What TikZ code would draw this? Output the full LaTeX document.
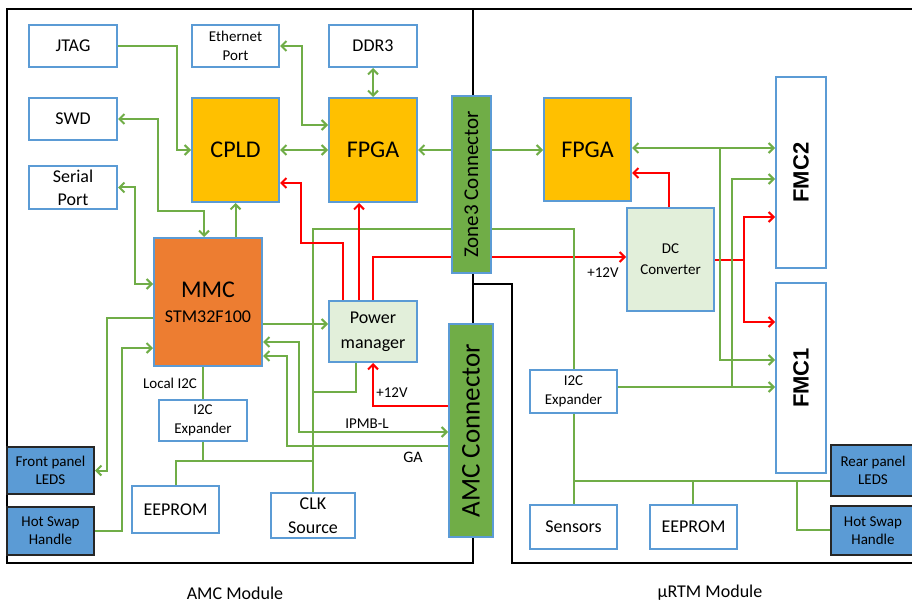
\documentclass[tikz,border=0pt]{standalone}
\usepackage{fontspec}
\setmainfont{Carlito}
\newfontfamily\arialf{Liberation Sans}
\usepackage{graphicx}
\usetikzlibrary{arrows.meta}
\definecolor{BoxBlue}{HTML}{5B9BD5}
\definecolor{LineGreen}{HTML}{70AD47}
\definecolor{LineRed}{HTML}{FF0000}
\definecolor{McuOrange}{HTML}{ED7D31}
\definecolor{ChipYellow}{HTML}{FFC000}
\definecolor{PwrGreen}{HTML}{E2EFDA}
\definecolor{PanelEdge}{HTML}{262626}
\tikzset{
  blk/.style    = {draw=BoxBlue, line width=2pt, fill=white, inner sep=0pt,
                   align=center, font=\fontsize{18}{23}\selectfont},
  blks/.style   = {blk, font=\fontsize{15}{19}\selectfont},
  chip/.style   = {blk, fill=ChipYellow, font=\fontsize{24}{28}\selectfont},
  mcu/.style    = {blk, fill=McuOrange},
  pwr/.style    = {blk, fill=PwrGreen},
  conn/.style   = {blk, fill=LineGreen},
  panel/.style  = {draw=PanelEdge, line width=2pt, fill=BoxBlue, inner sep=0pt,
                   align=center, font=\fontsize{15}{18}\selectfont},
  fmc/.style    = {blk, font=\arialf\bfseries\fontsize{22}{26}\selectfont},
  wire/.style   = {LineGreen, line width=2pt},
  arr/.style    = {wire, -{Straight Barb[length=5pt,width=10pt]}},
  darr/.style   = {wire, {Straight Barb[length=5pt,width=10pt]}-{Straight Barb[length=5pt,width=10pt]}},
  redwire/.style= {LineRed, line width=2pt},
  redarr/.style = {redwire, -{Straight Barb[length=5pt,width=10pt]}},
  lbl/.style    = {inner sep=0pt, font=\fontsize{15}{18}\selectfont},
  frame/.style  = {black, line width=2pt},
}

\begin{document}
\begin{tikzpicture}[x=1pt, y=-1pt]
  \useasboundingbox (0,0) rectangle (912,604);
  % module frames
  \draw[frame] (7,9) rectangle (473,563);
  \draw[frame] (473,9) -- (915,9);
  \draw[frame] (473,284) -- (512,284) -- (512,563) -- (915,563);

  % AMC side
  \node[blk, minimum width=88pt, minimum height=42pt] (jtag) at (73,46) {JTAG};
  \node[blk, minimum width=88pt, minimum height=42pt] (swd) at (73,119) {SWD};
  \node[blk, minimum width=88pt, minimum height=43pt] (serial) at (73,187.5) {Serial\\Port};
  \node[blks, minimum width=87pt, minimum height=42pt] (eth) at (235.5,46) {Ethernet\\Port};
  \node[blk, minimum width=88pt, minimum height=42pt] (ddr) at (373,46) {DDR3};
  \node[chip, minimum width=87pt, minimum height=104pt] (cpld) at (235.5,150) {CPLD};
  \node[chip, minimum width=88pt, minimum height=104pt] (fpgaA) at (373,150) {FPGA};
  \node[mcu, minimum width=108pt, minimum height=128pt] (mmc) at (208,302)
    {{\fontsize{24}{28}\selectfont MMC}\\[2pt]STM32F100};
  \node[pwr, minimum width=88pt, minimum height=61pt, font=\fontsize{18}{25}\selectfont] (pm) at (373,331.5) {Power\\manager};
  \node[blks, minimum width=88pt, minimum height=41pt] (i2cA) at (203,420.5) {I2C\\Expander};
  \node[blk, minimum width=87pt, minimum height=47pt] (eepA) at (175.5,509.5) {EEPROM};
  \node[blk, minimum width=84pt, minimum height=45pt, font=\fontsize{18}{24}\selectfont] (clk) at (313,515.5) {CLK\\Source};
  \node[panel, minimum width=87pt, minimum height=47pt] (fled) at (50.5,470.5) {Front panel\\LEDS};
  \node[panel, minimum width=87pt, minimum height=48pt] (hshA) at (50.5,531) {Hot Swap\\Handle};
  \node[conn, minimum width=39pt, minimum height=177pt, font=\fontsize{21}{24}\selectfont] (zone) at (471.5,184.5) {\rotatebox{90}{Zone3 Connector}};
  \node[conn, minimum width=44pt, minimum height=213pt, font=\fontsize{27}{30}\selectfont] (amc) at (471,430.5) {\rotatebox{90}{AMC Connector}};

  % uRTM side
  \node[chip, minimum width=87pt, minimum height=103pt] (fpgaB) at (587.5,149.5) {FPGA};
  \node[pwr, minimum width=87pt, minimum height=103pt, font=\fontsize{15}{21}\selectfont] (dc) at (670.5,259.5) {DC\\Converter};
  \node[fmc, minimum width=50pt, minimum height=191pt] (fmc2) at (801,172.5) {\rotatebox{90}{FMC2}};
  \node[fmc, minimum width=50pt, minimum height=190pt] (fmc1) at (801,378) {\rotatebox{90}{FMC1}};
  \node[blks, minimum width=87pt, minimum height=43pt] (i2cB) at (573.5,391.5) {I2C\\Expander};
  \node[blk, minimum width=87pt, minimum height=44pt] (sens) at (573.5,527) {Sensors};
  \node[blk, minimum width=87pt, minimum height=44pt] (eepB) at (693.5,527) {EEPROM};
  \node[panel, minimum width=84pt, minimum height=51pt] (rled) at (873,470.5) {Rear panel\\LEDS};
  \node[panel, minimum width=84pt, minimum height=49pt] (hshB) at (873,530.5) {Hot Swap\\Handle};

  % green links, AMC side
  \draw[arr] (jtag.east) -- ++(59,0) |- (cpld.west);
  \draw[darr] (swd.east) -| (158,211) -| (204,0 |- mmc.north);
  \draw[arr] (cpld.south |- mmc.north) -- (cpld.south);
  \draw[darr] (serial.east) -- ++(17,0) |- (mmc.west |- 0,284);
  \draw[arr] (mmc.west |- 0,318) -- (107,318) |- (fled.east);
  \draw[arr] (hshA.east) -| (122,348) -- (mmc.west |- 0,348);
  \draw[darr] (eth.east) -- (302,0 |- eth.east) |- (fpgaA.west |- 0,125);
  \draw[darr] (cpld.east) -- (fpgaA.west);
  \draw[darr] (ddr.south) -- (fpgaA.north);
  \draw[arr] (zone.west |- fpgaA.east) -- (fpgaA.east);
  \draw[arr] (zone.east |- 0,150) -- (fpgaB.west |- 0,150);
  \draw[arr] (mmc.east |- 0,324) -- (pm.west |- 0,324);
  \draw[wire] (356,0 |- pm.south) |- (313,392);
  \draw[wire] (zone.west |- 0,229) -| (clk.north);
  \draw[wire] (mmc.south -| i2cA.north) -- (i2cA.north);
  \draw[wire] (i2cA.south) -- (203,461);
  \draw[wire] (eepA.north) |- (313,461);
  \draw[darr] (mmc.east |- 0,342) -| (299,432) -- (amc.west |- 0,432);
  \draw[arr] (amc.west |- 0,446) -| (287,356) -- (mmc.east |- 0,356);

  % power, red
  \draw[redarr] (343,0 |- pm.north) |- (301,243) |- (cpld.east |- 0,183);
  \draw[redarr] (359,0 |- pm.north) -- (359,0 |- fpgaA.south);
  \draw[redwire] (pm.north) |- (zone.west |- 0,257);
  \draw[redarr] (zone.east |- 0,257) -- (dc.west |- 0,257);
  \draw[redarr] (amc.west |- 0,406) -| (pm.south);
  \draw[redarr] (669,0 |- dc.north) |- (fpgaB.east |- 0,173);
  \draw[redarr] (dc.east |- 0,260) -| (744,217) -- (fmc2.west |- 0,217);
  \draw[redarr] (744,260) |- (fmc1.west |- 0,322);

  % green links, uRTM side
  \draw[wire] (zone.east |- 0,229) -| (574,0 |- i2cB.north);
  \draw[darr] (fpgaB.east |- 0,148) -- (fmc2.west |- 0,148);
  \draw[arr] (720,148) |- (fmc1.west |- 0,360);
  \draw[arr] (i2cB.east |- 0,387) -- (fmc1.west |- 0,387);
  \draw[arr] (732,387) |- (fmc2.west |- 0,179);
  \draw[wire] (574,0 |- i2cB.south) -- (574,0 |- sens.north);
  \draw[wire] (574,481) -- (rled.west |- 0,481);
  \draw[wire] (693,0 |- eepB.north) -- (693,481);
  \draw[wire] (797,481) |- (hshB.west |- 0,530);

  % labels
  \node[lbl] (loci2c) at (170,383) {Local I2C};
  \node[lbl] (vin) at (392,393) {+12V};
  \node[lbl] (ipmb) at (367,424) {IPMB-L};
  \node[lbl, font=\fontsize{16}{18}\selectfont] (ga) at (413,457) {GA};
  \node[lbl] (vdc) at (603,273) {+12V};
  \node[lbl, font=\fontsize{18}{20}\selectfont] (amcmod) at (235,593) {AMC Module};
  \node[lbl, font=\fontsize{18}{20}\selectfont] (rtmmod) at (710,593) {µRTM Module};
\end{tikzpicture}
\end{document}
